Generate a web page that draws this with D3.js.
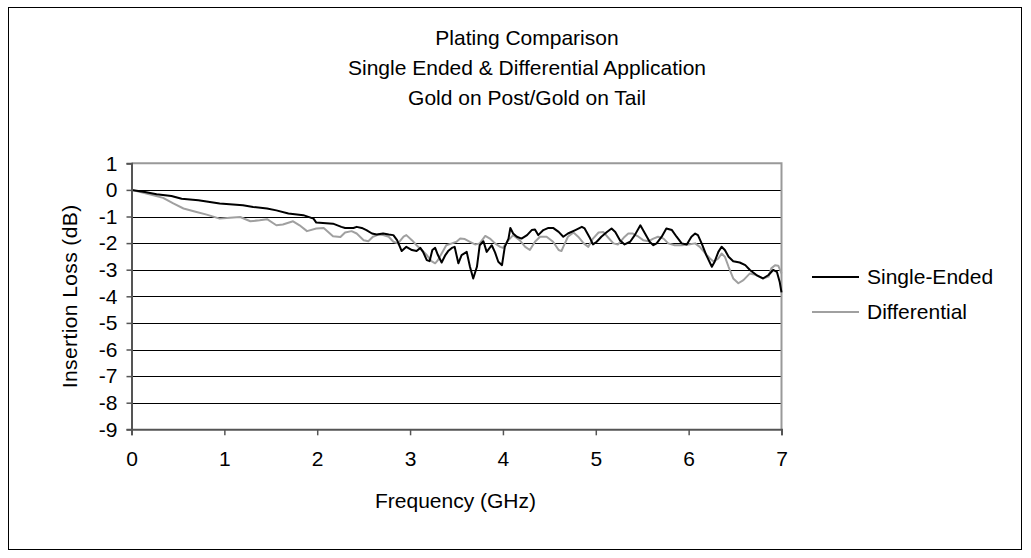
<!DOCTYPE html>
<html>
<head>
<meta charset="utf-8">
<script src="https://cdn.jsdelivr.net/npm/d3@7"></script>
<style>
  body { margin: 0; background: #fff; }
  svg text { font-family: "Liberation Sans", Arial, sans-serif; fill: #000; }
</style>
</head>
<body>
<svg width="1031" height="558"></svg>
<script>
// chart data
var titleLines = ["Plating Comparison", "Single Ended & Differential Application", "Gold on Post/Gold on Tail"];
var seriesNames = ["Single-Ended", "Differential"];
var xTicks = [0, 1, 2, 3, 4, 5, 6, 7];
var yTicks = [1, 0, -1, -2, -3, -4, -5, -6, -7, -8, -9];

// Single-Ended: [GHz, dB]
var singleEnded = [
  [0,0],[0.145,-0.075],[0.27,-0.16],[0.43,-0.23],[0.54,-0.33],[0.72,-0.39],[0.95,-0.51],[1.20,-0.58],
  [1.31,-0.64],[1.46,-0.70],[1.56,-0.77],[1.69,-0.89],[1.85,-0.95],[1.96,-1.08],[1.99,-1.23],[2.17,-1.27],
  [2.26,-1.39],[2.30,-1.43],[2.39,-1.43],[2.425,-1.39],[2.48,-1.43],[2.53,-1.51],[2.59,-1.64],[2.64,-1.68],
  [2.71,-1.64],[2.77,-1.68],[2.82,-1.70],[2.86,-1.89],[2.91,-2.30],[2.96,-2.14],[3.02,-2.26],[3.07,-2.30],
  [3.11,-2.18],[3.14,-2.33],[3.18,-2.64],[3.21,-2.68],[3.24,-2.26],[3.27,-2.18],[3.30,-2.45],[3.34,-2.73],
  [3.38,-2.45],[3.41,-2.30],[3.45,-2.18],[3.48,-2.14],[3.52,-2.76],[3.555,-2.45],[3.61,-2.33],[3.645,-2.89],
  [3.68,-3.33],[3.72,-2.89],[3.75,-2.08],[3.79,-1.93],[3.825,-2.33],[3.88,-2.08],[3.915,-2.35],[3.95,-2.70],
  [3.99,-2.83],[4.02,-2.14],[4.06,-1.83],[4.08,-1.43],[4.11,-1.64],[4.15,-1.76],[4.20,-1.83],[4.26,-1.70],
  [4.31,-1.51],[4.345,-1.49],[4.38,-1.70],[4.435,-1.51],[4.49,-1.43],[4.54,-1.43],[4.60,-1.58],[4.65,-1.76],
  [4.70,-1.64],[4.78,-1.51],[4.85,-1.39],[4.88,-1.45],[4.94,-1.83],[4.97,-2.05],[5.01,-1.95],[5.06,-1.76],
  [5.12,-1.58],[5.17,-1.45],[5.21,-1.58],[5.26,-1.89],[5.31,-2.05],[5.37,-1.95],[5.42,-1.70],[5.48,-1.33],
  [5.53,-1.64],[5.58,-1.95],[5.62,-2.08],[5.655,-2.01],[5.71,-1.76],[5.76,-1.45],[5.82,-1.51],[5.87,-1.76],
  [5.925,-2.01],[5.98,-2.05],[6.03,-1.76],[6.07,-1.64],[6.10,-1.70],[6.14,-2.01],[6.19,-2.45],[6.25,-2.89],
  [6.28,-2.70],[6.32,-2.33],[6.355,-2.14],[6.39,-2.26],[6.43,-2.51],[6.48,-2.68],[6.55,-2.73],[6.61,-2.83],
  [6.66,-3.01],[6.73,-3.20],[6.80,-3.33],[6.86,-3.20],[6.91,-3.01],[6.95,-3.08],[6.98,-3.45],[7.0,-3.85]
];

// Differential: [GHz, dB]
var differential = [
  [0,0],[0.16,-0.14],[0.235,-0.20],[0.34,-0.30],[0.45,-0.51],[0.56,-0.70],[0.70,-0.83],[0.81,-0.93],
  [0.95,-1.08],[1.06,-1.05],[1.17,-1.02],[1.28,-1.18],[1.38,-1.14],[1.46,-1.10],[1.56,-1.33],[1.63,-1.30],
  [1.74,-1.18],[1.81,-1.33],[1.89,-1.55],[1.99,-1.45],[2.07,-1.43],[2.17,-1.74],[2.25,-1.77],[2.30,-1.60],
  [2.37,-1.55],[2.425,-1.64],[2.50,-1.89],[2.55,-1.93],[2.60,-1.76],[2.66,-1.68],[2.71,-1.70],[2.77,-1.76],
  [2.82,-1.95],[2.87,-2.01],[2.93,-1.76],[2.96,-1.70],[3.02,-1.89],[3.07,-2.08],[3.125,-2.26],[3.18,-2.45],
  [3.23,-2.68],[3.27,-2.76],[3.30,-2.64],[3.34,-2.39],[3.39,-2.08],[3.45,-2.01],[3.50,-1.95],[3.54,-1.83],
  [3.59,-1.85],[3.645,-1.95],[3.70,-2.05],[3.75,-2.01],[3.81,-1.73],[3.86,-1.83],[3.915,-2.01],[3.97,-2.14],
  [4.00,-2.18],[4.06,-1.89],[4.11,-1.70],[4.18,-1.89],[4.24,-2.14],[4.29,-2.26],[4.345,-1.95],[4.40,-1.76],
  [4.47,-1.76],[4.54,-1.95],[4.60,-2.26],[4.63,-2.30],[4.65,-2.14],[4.70,-1.76],[4.76,-1.60],[4.81,-1.76],
  [4.87,-2.01],[4.92,-2.14],[4.97,-1.83],[5.03,-1.60],[5.08,-1.58],[5.135,-1.80],[5.19,-2.01],[5.24,-2.05],
  [5.30,-1.80],[5.35,-1.64],[5.40,-1.64],[5.46,-1.76],[5.51,-1.89],[5.57,-1.93],[5.62,-1.83],[5.67,-1.76],
  [5.73,-1.83],[5.78,-2.01],[5.85,-2.08],[5.925,-2.08],[6.00,-2.05],[6.07,-2.01],[6.12,-2.14],[6.18,-2.39],
  [6.23,-2.58],[6.27,-2.70],[6.32,-2.58],[6.355,-2.39],[6.39,-2.51],[6.43,-2.89],[6.48,-3.33],[6.535,-3.51],
  [6.59,-3.39],[6.66,-3.14],[6.73,-3.20],[6.80,-3.33],[6.86,-3.26],[6.89,-2.95],[6.93,-2.83],[6.965,-2.85],
  [7.0,-3.14]
];

var seriesColors = ["#000000", "#a0a0a0"];

var svg = d3.select("svg"),
    width = +svg.attr("width"),
    height = +svg.attr("height");

var plot = {left: 131.5, right: 781.5, top: 163.3, bottom: 429.3};
var fontSize = 21;

var x = d3.scaleLinear().domain([0, 7]).range([plot.left, plot.right]);
var y = d3.scaleLinear().domain([-9, 1]).range([plot.bottom, plot.top]);

// outer chart frame
svg.append("rect")
    .attr("x", 8.5).attr("y", 7.5)
    .attr("width", 1013).attr("height", 542)
    .attr("fill", "#fff")
    .attr("stroke", "#000")
    .attr("stroke-width", 1);

// title
svg.append("g")
    .selectAll("text")
    .data(titleLines)
    .enter().append("text")
        .attr("x", 527)
        .attr("y", function(d, i) { return 45 + i * 30; })
        .attr("text-anchor", "middle")
        .style("font-size", fontSize + "px")
        .text(function(d) { return d; });

// horizontal gridlines
svg.append("g")
    .selectAll("line")
    .data(yTicks.filter(function(d) { return d > -9 && d < 1; }))
    .enter().append("line")
        .attr("x1", plot.left).attr("x2", plot.right)
        .attr("y1", function(d) { return Math.round(y(d)) + 0.5; })
        .attr("y2", function(d) { return Math.round(y(d)) + 0.5; })
        .attr("stroke", "#000")
        .attr("stroke-width", 1);

// plot border top/right
svg.append("path")
    .attr("d", "M" + plot.left + "," + y(1) + "H" + plot.right + "V" + plot.bottom)
    .attr("fill", "none")
    .attr("stroke", "#999")
    .attr("stroke-width", 2);

// series
var line = d3.line()
    .x(function(d) { return x(d[0]); })
    .y(function(d) { return y(d[1]); });

svg.append("g")
    .selectAll("path")
    .data([differential, singleEnded])
    .enter().append("path")
        .attr("d", line)
        .attr("fill", "none")
        .attr("stroke", function(d, i) { return seriesColors[1 - i]; })
        .attr("stroke-width", 2)
        .attr("stroke-linejoin", "round");

// axes
var yAxis = svg.append("g")
    .attr("transform", "translate(" + plot.left + ",0)")
    .call(d3.axisLeft(y).tickValues(yTicks).tickFormat(d3.format("d")).tickSize(5).tickPadding(9));

var xAxis = svg.append("g")
    .attr("transform", "translate(0," + plot.bottom + ")")
    .call(d3.axisBottom(x).tickValues(xTicks).tickFormat(d3.format("d")).tickSize(6).tickPadding(16));

[yAxis, xAxis].forEach(function(ax) {
    ax.select(".domain").attr("stroke", "#555").attr("stroke-width", 2);
    ax.selectAll(".tick line").attr("stroke", "#555").attr("stroke-width", 1.5);
    ax.selectAll("text")
        .style("font-family", "\"Liberation Sans\", Arial, sans-serif")
        .style("font-size", fontSize + "px")
        .attr("fill", "#000");
});
yAxis.selectAll(".tick text").text(function(d) { return d < 0 ? "-" + Math.abs(d) : d; });

// axis titles
svg.append("text")
    .attr("transform", "translate(77," + ((plot.top + plot.bottom) / 2) + ") rotate(-90)")
    .attr("text-anchor", "middle")
    .style("font-size", fontSize + "px")
    .style("letter-spacing", "0.4px")
    .text("Insertion Loss (dB)");

svg.append("text")
    .attr("x", (plot.left + plot.right) / 2 - 1)
    .attr("y", 508)
    .attr("text-anchor", "middle")
    .style("font-size", fontSize + "px")
    .text("Frequency (GHz)");

// legend
var legend = svg.append("g")
    .selectAll("g")
    .data(seriesNames)
    .enter().append("g")
        .attr("transform", function(d, i) { return "translate(812," + (277 + i * 35) + ")"; });

legend.append("line")
    .attr("x1", 0).attr("x2", 47)
    .attr("stroke", function(d, i) { return seriesColors[i]; })
    .attr("stroke-width", 2);

legend.append("text")
    .attr("x", 55)
    .attr("dy", "0.35em")
    .style("font-size", fontSize + "px")
    .text(function(d) { return d; });
</script>
</body>
</html>
